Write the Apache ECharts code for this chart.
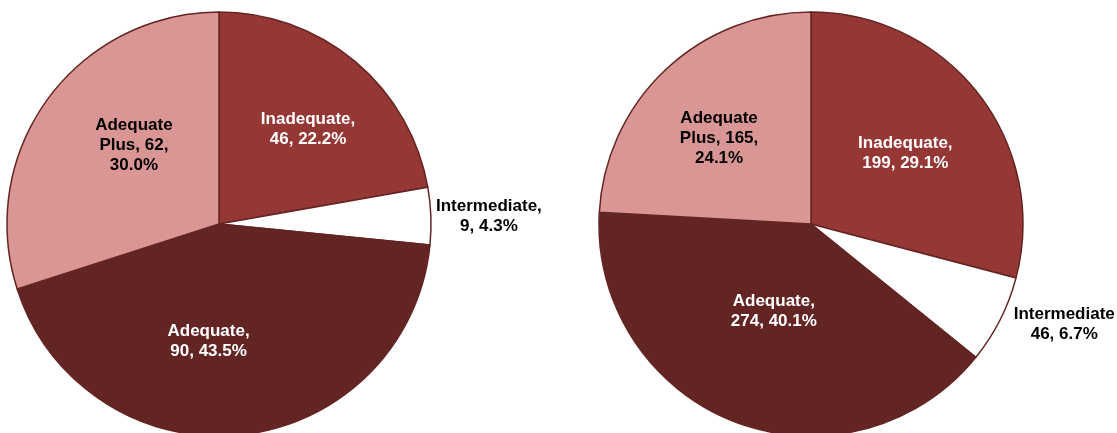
<!DOCTYPE html>
<html>
<head>
<meta charset="utf-8">
<script src="https://cdn.jsdelivr.net/npm/echarts@6/dist/echarts.min.js"></script>
<style>
  html, body { margin: 0; padding: 0; background: #fff; }
  #chart { width: 1117px; height: 433px; }
</style>
</head>
<body>
<div id="chart"></div>
<script>
const categories = ['Inadequate', 'Intermediate', 'Adequate', 'Adequate Plus'];
const leftValues = [46, 9, 90, 62];
const rightValues = [199, 46, 274, 165];

const sliceColors = ['#953735', '#ffffff', '#632523', '#d99694'];
const labelColors = ['#ffffff', '#000000', '#ffffff', '#000000'];

// label nudges from the default inside spot, [dx, dy] per slice
const labelNudge = [
  [[19, -11], [161, -4], [-22, 9], [3, -14]],
  [[8, -4], [156, 51], [2, -14], [-17, -7]]
];

const chart = echarts.init(document.getElementById('chart'));

const buildData = (values) => values.map((v, i) => ({
  name: categories[i],
  value: v,
  itemStyle: { color: sliceColors[i] },
  label: { color: labelColors[i] }
}));

const makeFormatter = (values) => {
  const total = values.reduce((a, b) => a + b, 0);
  return (p) => {
    const pct = (p.value / total * 100).toFixed(1) + '%';
    if (p.name === 'Adequate Plus') return 'Adequate\nPlus, ' + p.value + ',\n' + pct;
    // right pie's intermediate label lost its comma in the original
    if (p.name === 'Intermediate' && p.seriesIndex === 1) return p.name + '\n' + p.value + ', ' + pct;
    return p.name + ',\n' + p.value + ', ' + pct;
  };
};

const makeSeries = (values, center, idx) => ({
  type: 'pie',
  center: center,
  radius: 212,
  startAngle: 90,
  clockwise: true,
  silent: true,
  data: buildData(values),
  itemStyle: { borderColor: '#632523', borderWidth: 1.5 },
  label: {
    position: 'inside',
    formatter: makeFormatter(values),
    fontFamily: 'Arial, "Liberation Sans", sans-serif',
    fontWeight: 'bold',
    fontSize: 17,
    lineHeight: 20
  },
  labelLayout: (p) => {
    const n = labelNudge[idx][p.dataIndex];
    return { dx: n[0], dy: n[1] };
  },
  labelLine: { show: false },
  emphasis: { disabled: true }
});

chart.setOption({
  animation: false,
  series: [
    makeSeries(leftValues, [219, 224], 0),
    makeSeries(rightValues, [811, 224], 1)
  ]
});
</script>
</body>
</html>
